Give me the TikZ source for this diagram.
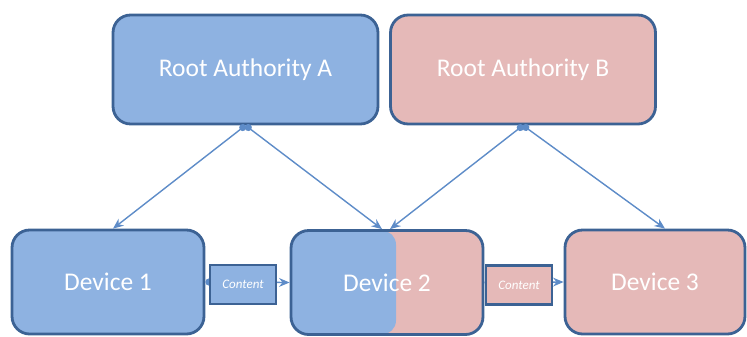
\documentclass[tikz,border=0pt]{standalone}
\usepackage{fontspec}
\setmainfont{Carlito}
\usetikzlibrary{arrows.meta}
\definecolor{rootblue}{RGB}{142,178,225}
\definecolor{rootpink}{RGB}{229,185,184}
\definecolor{edgeblue}{RGB}{60,98,148}
\definecolor{linkblue}{RGB}{94,140,200}
\begin{document}
\begin{tikzpicture}[>={Stealth[length=6pt,width=5pt]},x=0.02cm,y=-0.02cm,
	box/.style={draw=edgeblue,line width=1.6pt,rounded corners=10pt,text=white,font=\fontsize{14.5}{16}\selectfont},
	rootbox/.style={box,minimum width=5.3cm,minimum height=2.18cm},
	devbox/.style={box,minimum width=3.84cm,minimum height=2.08cm},
	contentbox/.style={draw=edgeblue,line width=1.6pt,text=white,minimum width=1.32cm,minimum height=0.78cm,inner sep=0pt,font=\fontsize{7.4}{8}\selectfont\itshape},
	link/.style={linkblue,line width=0.8pt,{Circle[length=4pt]}->}]
	\useasboundingbox (0,0) rectangle (747,336);
	% Wurzeln
	\node[rootbox,fill=rootblue] (rootA) at (245.5,69.5) {Root Authority A};
	\node[rootbox,fill=rootpink] (rootB) at (523,69.5) {Root Authority B};
	% Geraete
	\node[devbox,fill=rootblue] (dev1) at (108,282) {Device 1};
	\node[devbox,fill=rootpink,path picture={\fill[rootblue,rounded corners=8pt] (path picture bounding box.north west) rectangle ([xshift=2.1cm]path picture bounding box.south west);}] (dev2) at (387,282.5) {Device 2};
	\node[devbox,fill=rootpink,minimum width=3.6cm] (dev3) at (655,282) {Device 3};
	% Verbindungen
	\draw[link] (rootA.south) -- ([xshift=0.1cm]dev1.north);
	\draw[link] (rootA.south) -- ([xshift=-0.1cm]dev2.north);
	\draw[link] (rootB.south) -- ([xshift=0.06cm]dev2.north);
	\draw[link] (rootB.south) -- ([xshift=0.2cm]dev3.north);
	\draw[link] (dev1.east) -- (dev2.west);
	\draw[link] (dev2.east) -- (dev3.west);
	\node[contentbox,fill=rootblue] (cont1) at (243,284.5) {Content};
	\node[contentbox,fill=rootpink] (cont2) at (519,285) {Content};
\end{tikzpicture}
\end{document}
